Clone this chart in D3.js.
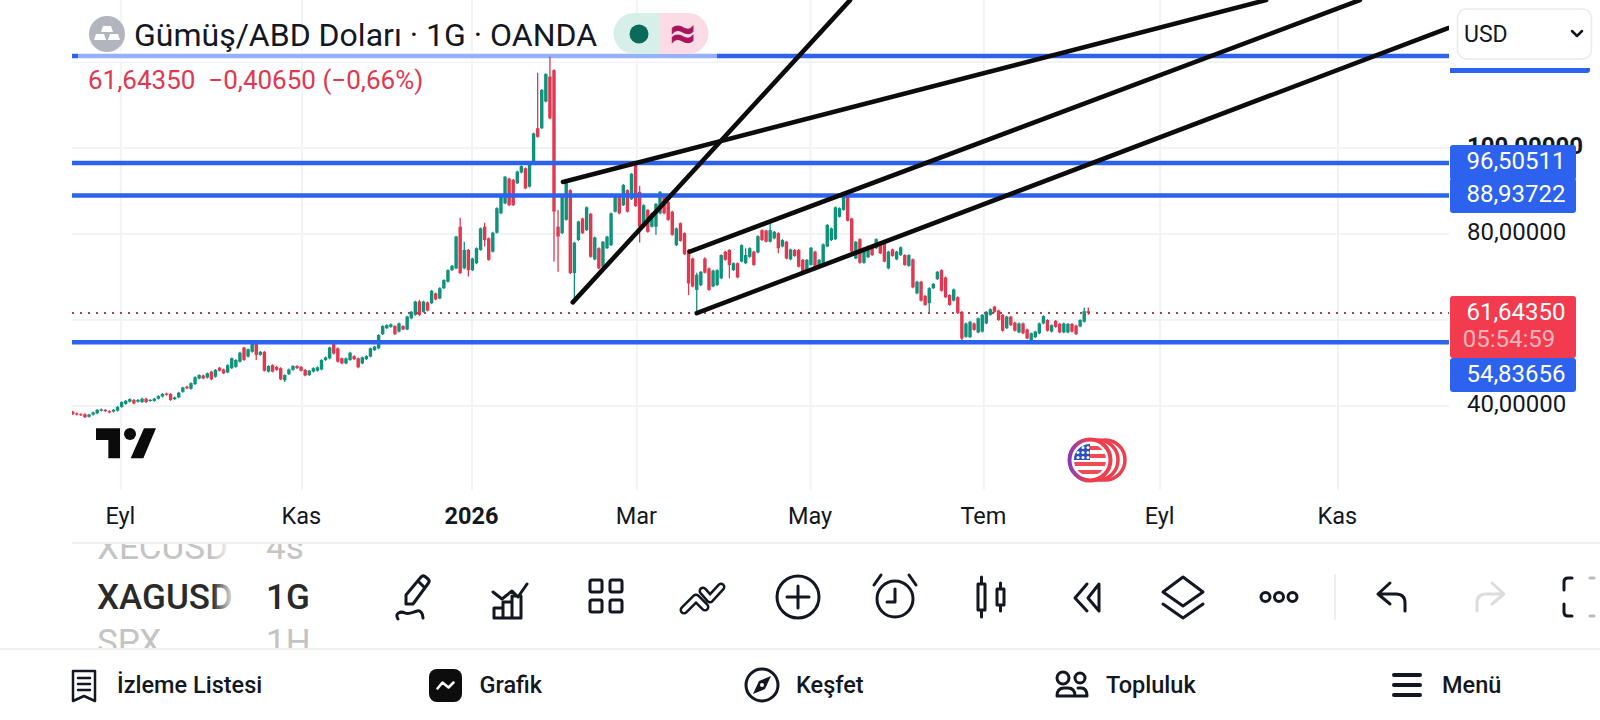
<!DOCTYPE html>
<html>
<head>
    <title>XAGUSD</title>
    <script src="https://cdnjs.cloudflare.com/ajax/libs/d3/7.8.5/d3.min.js"></script>
    <style>
        html, body { margin: 0; background: #fff; overflow: hidden; }
        svg { display: block; font-family: Roboto, sans-serif; }
        .icon { fill: none; stroke: #131722; stroke-width: 3; stroke-linejoin: round; stroke-linecap: round; }
        .axis path, .axis line { display: none; }
    </style>
</head>
<body>
    <div id="chart"></div>
    <script>
        // Daily candles, oldest first (250 bars)
        const opens = [
            38.7,38.3,38.1,38.1,37.5,38.0,38.3,38.9,39.1,38.8,
            38.7,38.9,39.8,40.5,41.0,41.4,41.0,40.9,41.7,41.2,
            41.2,41.7,42.2,42.9,42.8,41.6,42.0,43.3,44.5,44.0,
            45.1,46.4,47.1,46.6,48.0,46.8,48.9,48.5,47.8,48.8,
            49.1,50.3,53.6,51.5,52.6,54.6,51.9,52.6,48.0,49.5,
            49.1,48.8,46.0,47.4,48.4,49.3,49.1,48.4,47.2,48.0,
            48.2,48.5,50.7,51.1,54.6,53.4,51.1,49.9,50.7,51.6,
            51.1,49.9,50.9,51.5,53.0,53.4,56.7,58.1,58.4,58.6,57.3,
            58.6,57.8,60.4,61.2,64.3,61.9,64.1,63.9,66.2,65.0,
            67.4,68.9,71.6,72.0,81.7,72.0,76.3,71.6,73.2,76.3,
            81.7,79.0,75.9,80.3,84.8,87.1,92.9,92.6,91.8,94.3,
            95.3,91.0,96.4,104.6,104.6,110.8,116.6,118.1,81.7,80.2,
            83.3,90.2,70.9,78.6,83.6,80.9,84.7,74.1,76.7,72.4,
            76.7,77.4,85.2,89.1,86.7,90.2,88.1,96.4,89.8,82.1,
            85.6,81.7,81.7,84.8,89.1,87.5,85.2,77.4,82.5,80.2,76.3,74.3,
            67.0,68.1,74.3,72.0,67.8,68.1,69.7,75.9,76.3,71.6,
            73.2,73.6,73.2,74.7,75.9,75.7,80.9,80.8,78.2,79.0,
            80.2,77.1,78.2,74.1,76.3,76.3,74.0,71.2,72.8,75.9,
            72.4,72.6,77.1,78.6,78.8,84.0,85.6,88.7,83.6,74.3,
            78.8,73.3,74.6,77.2,76.7,78.2,77.8,72.0,76.4,74.1,
            75.1,75.1,72.6,74.1,66.2,68.9,65.6,63.9,67.4,69.5,
            71.6,69.9,65.8,64.5,65.3,61.9,56.1,56.0,59.2,57.1,
            57.3,59.2,61.2,63.1,62.2,61.2,58.1,60.8,59.4,57.1,
            59.2,57.8,55.3,56.0,56.9,59.2,60.0,
            57.3,59.8,59.1,57.1,57.1,59.1,58.7,58.5,59.6,62.05
        ];
        const closes = [
            38.1,38.0,37.9,37.4,38.0,38.5,39.1,39.2,38.8,38.5,
            39.1,39.8,40.9,41.2,41.6,40.6,41.4,41.7,40.9,41.4,
            41.7,42.3,42.8,42.6,41.4,42.0,43.1,44.3,44.1,45.3,
            46.7,47.2,46.4,47.6,46.2,48.4,48.2,47.6,49.5,51.1,
            50.7,52.4,50.7,53.2,54.4,51.9,52.6,48.2,49.3,48.0,
            48.4,46.2,47.2,48.5,49.3,48.8,48.2,47.1,48.2,48.8,
            49.0,50.7,51.3,53.6,52.2,50.3,49.9,51.1,52.4,50.9,
            49.0,51.3,51.6,53.4,53.8,56.5,58.6,58.8,59.0,56.7,59.2,
            57.8,60.8,61.9,64.3,61.2,64.3,62.2,66.8,64.8,67.4,
            69.3,71.6,72.6,79.4,70.9,76.3,71.6,74.3,76.7,81.3,
            78.6,74.0,80.3,86.0,88.7,93.3,86.7,86.7,94.5,95.8,
            90.6,96.4,103.4,102.6,113.5,117.2,106.9,85.2,79.4,88.7,
            92.2,70.9,78.0,82.9,80.2,86.2,74.7,79.2,72.0,78.2,
            79.4,84.8,88.7,84.8,91.4,85.2,94.0,86.5,81.7,86.7,
            80.5,84.8,87.0,89.8,84.8,83.3,79.8,81.3,78.4,75.3,68.5,67.8,
            70.5,71.2,71.0,67.0,71.5,71.6,75.1,74.0,72.8,73.2,
            69.9,77.4,75.1,76.7,72.8,79.5,78.6,78.2,80.9,80.5,
            76.7,78.6,74.3,76.4,74.9,72.4,71.0,74.0,76.8,72.2,
            74.0,77.6,82.1,81.3,86.2,86.0,89.3,83.1,75.9,78.2,
            73.3,76.7,77.1,75.1,78.8,75.5,73.6,75.9,74.9,75.9,
            76.9,72.8,75.1,67.6,68.9,64.5,63.5,67.4,68.4,71.2,
            66.8,65.3,63.5,67.1,61.6,55.7,59.2,59.6,57.7,60.4,
            61.2,61.9,62.5,61.9,60.0,57.5,60.8,58.8,57.5,59.2,
            56.9,55.7,56.9,57.3,59.2,60.9,57.5,
            58.8,58.4,57.1,59.2,59.1,57.3,56.7,60.0,62.05,61.64
        ];
        const highs = [
            38.9,38.5,38.3,38.3,38.2,38.7,39.3,39.4,39.3,39.0,
            39.3,40.0,41.1,41.4,41.8,41.6,41.6,41.9,41.9,41.6,
            41.9,42.5,43.0,43.1,43.0,42.2,43.3,44.5,44.7,45.5,
            46.9,47.4,47.3,47.8,48.2,48.6,49.1,48.7,49.7,51.3,
            50.9,52.6,53.8,53.4,54.6,54.8,52.8,52.8,49.5,49.7,
            49.3,49.0,47.4,48.7,49.5,49.5,49.3,48.6,48.4,49.0,
            49.2,50.9,51.5,53.8,54.8,53.6,51.3,51.3,52.6,51.8,
            51.3,51.5,51.8,53.6,54.0,56.7,58.8,59.0,59.2,58.8,59.4,
            58.8,61.0,62.1,64.5,64.7,64.5,64.3,67.0,66.4,67.6,
            69.5,71.8,72.8,79.6,83.8,78.2,76.5,74.5,76.9,81.5,
            82.6,79.2,80.5,86.2,88.9,93.5,93.1,92.8,94.7,96.0,
            95.5,96.6,103.6,117.5,113.7,117.4,121.2,118.3,85.6,88.9,
            92.4,90.4,78.2,83.1,83.8,86.4,84.9,79.4,76.9,78.4,
            79.6,85.0,88.9,89.3,91.6,90.4,94.2,96.6,91.2,86.9,
            85.8,85.0,87.2,90.0,89.3,87.7,85.4,81.5,82.7,80.4,76.5,74.5,
            71.0,71.4,74.6,72.2,71.7,71.8,75.3,76.1,76.5,73.4,
            73.4,77.6,76.7,76.9,76.1,79.7,81.1,81.0,83.3,80.7,
            80.4,78.8,78.4,76.6,76.5,76.5,74.2,74.2,77.0,76.1,
            74.2,77.8,82.3,81.5,86.4,86.2,89.5,88.9,83.8,78.4,
            79.0,76.9,77.3,77.4,79.0,78.4,78.0,76.1,76.6,76.1,
            77.1,75.3,75.3,74.3,69.1,69.1,65.8,67.6,68.6,71.4,
            71.8,70.1,66.0,67.3,65.5,62.1,59.4,59.8,59.4,60.6,
            61.4,62.1,62.7,63.3,62.4,61.4,61.0,61.0,59.6,59.4,
            59.4,58.0,57.1,57.5,59.4,61.1,60.2,
            59.0,60.0,59.3,59.4,59.3,59.3,58.9,60.2,62.9,62.9
        ];
        const lows = [
            37.9,37.8,37.7,37.2,37.3,37.8,38.1,38.7,38.6,38.3,
            38.5,38.7,39.6,40.3,40.8,40.4,40.8,40.7,40.7,41.0,
            41.0,41.5,42.0,42.4,41.2,41.4,41.8,43.1,43.9,43.8,
            44.9,46.2,46.2,46.4,46.0,46.6,48.0,47.4,47.6,48.6,
            48.9,50.1,50.5,51.3,52.4,50.7,51.7,48.0,47.8,47.8,
            48.2,46.0,45.6,47.2,48.2,48.6,48.0,46.9,47.0,47.8,
            48.0,48.3,50.5,50.9,52.0,50.1,49.7,49.7,50.5,50.7,
            48.8,49.7,50.7,51.3,52.8,53.2,56.5,57.9,58.2,56.5,57.1,
            57.6,57.6,60.2,61.0,60.9,61.7,62.0,63.7,64.6,64.8,
            67.2,68.7,71.4,71.8,70.7,71.8,70.1,71.4,73.0,76.1,
            77.1,73.8,75.7,80.1,84.6,86.9,86.5,86.5,91.6,94.1,
            90.4,90.8,96.2,102.4,104.4,110.6,106.7,73.6,71.2,80.0,
            83.1,70.7,63.9,78.4,80.0,80.7,74.5,73.9,71.8,72.2,
            76.5,77.2,85.0,84.6,86.5,85.0,87.9,86.3,78.0,81.9,
            80.3,81.5,79.8,84.6,84.6,83.1,79.6,77.2,78.2,75.1,65.8,67.6,
            61.6,67.9,70.8,66.8,67.6,67.9,69.5,73.8,69.7,71.4,
            69.7,73.4,73.0,74.5,72.6,75.5,78.4,78.0,78.0,78.8,
            75.5,76.9,74.1,73.9,74.7,72.2,70.8,71.0,72.6,72.0,
            72.2,72.4,76.9,78.4,78.6,83.8,85.4,82.9,75.7,74.1,
            73.1,73.1,74.4,74.9,76.5,75.3,73.4,71.8,74.7,73.9,
            74.9,72.6,72.4,67.4,66.0,64.3,63.3,61.6,67.2,69.3,
            66.6,65.1,63.3,64.3,61.4,55.1,55.9,55.8,57.5,56.9,
            57.1,59.0,61.0,61.7,59.8,57.3,57.9,58.6,57.3,56.9,
            56.7,55.5,55.1,55.8,56.7,59.0,57.3,
            57.1,58.2,56.9,56.9,56.9,57.1,56.5,58.3,59.4,61.2
        ];

        // Time axis: month starts, in bar numbers
        const timeTicks = [11.8, 56.2, 97.9, 138.3, 180.9, 223.4, 266.6, 310.2];
        const timeLabels = ['Eyl', 'Kas', '2026', 'Mar', 'May', 'Tem', 'Eyl', 'Kas'];
        const priceGrid = [120, 100, 80, 60, 40];
        const priceTicks = [100, 80, 40];

        // Drawn levels and trend lines (bar number, price)
        const topLevel = 121.4;
        const levels = [96.50511, 88.93722, 54.83656];
        const lastPrice = 61.6435;
        const trendFrom = [[122.6, 64.1], [120.2, 92.1], [151.3, 75.9], [153.0, 61.6]];
        const trendTo = [[190.6, 134.4], [292.6, 134.4], [315.6, 134.4], [337.2, 127.9]];

        const green = '#0f917b', red = '#df3850', blue = '#2c62ee', ink = '#131722';

        const svg = d3.select('#chart').append('svg').attr('width', 1600).attr('height', 720);

        // Index-based x scale, the chart leaves out weekends
        const xScale = d3.scaleLinear().domain([0, 249]).range([72.7, 1088.3]);
        const yScale = d3.scaleLinear().domain([100, 40]).range([148, 406]);
        const comma = d3.format('.5f');
        const priceText = v => comma(v).replace('.', ',');

        svg.append('clipPath').attr('id', 'plot')
            .append('rect').attr('x', 72).attr('y', 0).attr('width', 1377).attr('height', 540);

        const plot = svg.append('g').attr('clip-path', 'url(#plot)');

        // Grid
        plot.selectAll('.vgrid').data(timeTicks).enter().append('line')
            .attr('x1', d => xScale(d)).attr('x2', d => xScale(d))
            .attr('y1', 0).attr('y2', 490)
            .attr('stroke', '#f2f3f5').attr('stroke-width', 2);
        plot.selectAll('.hgrid').data(priceGrid).enter().append('line')
            .attr('x1', 72).attr('x2', 1449)
            .attr('y1', d => yScale(d)).attr('y2', d => yScale(d))
            .attr('stroke', '#f2f3f5').attr('stroke-width', 2);

        // Top level runs under the legend, which washes it out
        plot.append('line').attr('x1', 72).attr('x2', 1449)
            .attr('y1', yScale(topLevel)).attr('y2', yScale(topLevel))
            .attr('stroke', blue).attr('stroke-width', 4.5);
        plot.append('rect').attr('x', 78).attr('y', 50).attr('width', 639).attr('height', 12)
            .attr('fill', '#fff').attr('opacity', 0.5);

        // Candles
        const candle = plot.selectAll('.candle').data(d3.range(opens.length)).enter().append('g');
        const colorOf = i => closes[i] >= opens[i] ? green : red;
        candle.append('line')
            .attr('x1', i => xScale(i)).attr('x2', i => xScale(i))
            .attr('y1', i => yScale(highs[i])).attr('y2', i => yScale(lows[i]))
            .attr('stroke', colorOf).attr('stroke-width', 1.3);
        candle.append('rect')
            .attr('x', i => xScale(i) - 1.7).attr('width', 3.4)
            .attr('y', i => yScale(Math.max(opens[i], closes[i])))
            .attr('height', i => Math.max(1, Math.abs(yScale(opens[i]) - yScale(closes[i]))))
            .attr('fill', colorOf);

        // Last price line
        plot.append('line').attr('x1', 72).attr('x2', 1449)
            .attr('y1', yScale(lastPrice)).attr('y2', yScale(lastPrice))
            .attr('stroke', '#a5434f').attr('stroke-width', 2).attr('stroke-dasharray', '2 6');

        // Levels
        plot.selectAll('.level').data(levels).enter().append('line')
            .attr('x1', 72).attr('x2', 1449)
            .attr('y1', d => yScale(d)).attr('y2', d => yScale(d))
            .attr('stroke', blue).attr('stroke-width', 4.5);

        // Trend lines
        plot.selectAll('.trend').data(trendFrom).enter().append('line')
            .attr('x1', d => xScale(d[0])).attr('y1', d => yScale(d[1]))
            .attr('x2', (d, i) => xScale(trendTo[i][0])).attr('y2', (d, i) => yScale(trendTo[i][1]))
            .attr('stroke', '#0c0c0c').attr('stroke-width', 4.6).attr('stroke-linecap', 'round');

        // TradingView mark
        const logo = svg.append('g').attr('transform', 'translate(80,410) scale(0.3333)').attr('fill', '#0b0b0b');
        logo.append('path').attr('d', 'M48 55H120V145H85V90H48Z');
        logo.append('circle').attr('cx', 150).attr('cy', 72).attr('r', 18);
        logo.append('path').attr('d', 'M192 55H228L190 145H152Z');

        // Flag bubble
        const defs = svg.append('defs');
        const ringGrad = defs.append('linearGradient').attr('id', 'ring');
        ringGrad.append('stop').attr('offset', '0%').attr('stop-color', '#8c3bb8');
        ringGrad.append('stop').attr('offset', '45%').attr('stop-color', '#ee3d4c');
        defs.append('clipPath').attr('id', 'flag').append('circle').attr('cx', 1090).attr('cy', 460).attr('r', 16);
        [1105, 1098].forEach(cx => {
            svg.append('circle').attr('cx', cx).attr('cy', 460).attr('r', 20)
                .attr('fill', '#fff').attr('stroke', '#ee3d4c').attr('stroke-width', 3.5);
        });
        svg.append('circle').attr('cx', 1090).attr('cy', 460).attr('r', 20.5)
            .attr('fill', '#fff').attr('stroke', 'url(#ring)').attr('stroke-width', 4);
        const flag = svg.append('g').attr('clip-path', 'url(#flag)');
        flag.append('rect').attr('x', 1074).attr('y', 444).attr('width', 32).attr('height', 32).attr('fill', '#fff');
        d3.range(4).forEach(k => {
            flag.append('rect').attr('x', 1074).attr('y', 446 + k * 8).attr('width', 32).attr('height', 4).attr('fill', '#ee4b55');
        });
        flag.append('rect').attr('x', 1074).attr('y', 444).attr('width', 16).attr('height', 16).attr('fill', '#2a4fc2');
        d3.range(3).forEach(r => d3.range(3).forEach(c => {
            flag.append('circle').attr('cx', 1078 + c * 5).attr('cy', 447.5 + r * 5).attr('r', 1.5).attr('fill', '#fff');
        }));

        // Legend
        svg.append('circle').attr('cx', 107).attr('cy', 34).attr('r', 18).attr('fill', '#b2b5be');
        svg.append('path').attr('d', 'M103 26h8l2 6h-12z M96 34h8l2 6H94z M110 34h8l2 6h-12z').attr('fill', '#fff');
        svg.append('text').attr('x', 134).attr('y', 46).attr('fill', ink)
            .style('font-size', '32px').text('Gümüş/ABD Doları · 1G · OANDA');
        svg.append('path').attr('d', 'M660 13H634a20.5 20.5 0 0 0 0 41H660Z').attr('fill', '#d6efe9');
        svg.append('path').attr('d', 'M660 13H688a20.5 20.5 0 0 1 0 41H660Z').attr('fill', '#fbdbe6');
        svg.append('circle').attr('cx', 639).attr('cy', 34).attr('r', 9.5).attr('fill', '#0a6b5b');
        svg.append('text').attr('x', 683).attr('y', 48).attr('text-anchor', 'middle').attr('fill', '#a8145e')
            .attr('stroke', '#a8145e').attr('stroke-width', 1)
            .style('font-size', '44px').style('font-weight', 700).text('≈');
        svg.append('text').attr('x', 88).attr('y', 89).attr('fill', red)
            .style('font-size', '26px').style('white-space', 'pre').text('61,64350  −0,40650 (−0,66%)');

        // Price axis
        const yAxis = d3.axisRight(yScale).tickValues(priceTicks).tickFormat(priceText).tickSize(0).tickPadding(0);
        const yAxisG = svg.append('g').attr('class', 'axis').attr('transform', 'translate(1467,-2.5)').call(yAxis);
        yAxisG.selectAll('text').attr('fill', ink)
            .style('font-size', '24px').style('font-family', 'Roboto, sans-serif')
            .style('font-weight', d => d === 100 ? 700 : 400);

        // Price labels
        const labelY = [145, 178];
        const tagTexts = [96.50511, 88.93722];
        svg.selectAll('.tag').data(tagTexts).enter().append('rect')
            .attr('x', 1450).attr('y', (d, i) => labelY[i]).attr('width', 126).attr('height', 35).attr('rx', 3)
            .attr('fill', blue);
        svg.selectAll('.tagText').data(tagTexts).enter().append('text')
            .attr('x', 1516).attr('y', (d, i) => labelY[i] + 24).attr('text-anchor', 'middle').attr('fill', '#fff')
            .style('font-size', '24px').text(priceText);
        svg.append('rect').attr('x', 1450).attr('y', 296).attr('width', 126).attr('height', 62).attr('rx', 3).attr('fill', '#f23b4f');
        svg.append('text').attr('x', 1516).attr('y', 320).attr('text-anchor', 'middle').attr('fill', '#fff')
            .style('font-size', '24px').text(priceText(61.6435));
        svg.append('text').attr('x', 1509).attr('y', 347).attr('text-anchor', 'middle').attr('fill', '#fbb4bb')
            .style('font-size', '24px').text('05:54:59');
        svg.append('rect').attr('x', 1450).attr('y', 358).attr('width', 126).attr('height', 34).attr('rx', 3).attr('fill', blue);
        svg.append('text').attr('x', 1516).attr('y', 382).attr('text-anchor', 'middle').attr('fill', '#fff')
            .style('font-size', '24px').text(priceText(54.83656));
        svg.append('path').attr('d', 'M1450 68H1590V70a3 3 0 0 1 -3 3H1450Z').attr('fill', blue);

        // Currency selector
        svg.append('rect').attr('x', 1457.5).attr('y', 9).attr('width', 134).attr('height', 50).attr('rx', 9)
            .attr('fill', '#fff').attr('stroke', '#ececec').attr('stroke-width', 1.5);
        svg.append('text').attr('x', 1464).attr('y', 42).attr('fill', ink).style('font-size', '23px').text('USD');
        svg.append('path').attr('d', 'M1572 31l5 5 5-5').attr('class', 'icon').style('stroke-width', 2.5);

        // Time axis
        const xAxis = d3.axisBottom(xScale).tickValues(timeTicks).tickFormat((d, i) => timeLabels[i]).tickSize(0).tickPadding(0);
        const xAxisG = svg.append('g').attr('class', 'axis').attr('transform', 'translate(-1,507)').call(xAxis);
        xAxisG.selectAll('text').attr('fill', ink)
            .style('font-size', '23.5px').style('font-family', 'Roboto, sans-serif')
            .style('font-weight', (d, i) => timeLabels[i] === '2026' ? 700 : 400);

        // Panel separators
        [543, 649].forEach(y => {
            svg.append('line').attr('x1', y === 543 ? 72 : 0).attr('x2', 1600).attr('y1', y).attr('y2', y)
                .attr('stroke', '#f0f0f0').attr('stroke-width', 2);
        });

        // Watchlist wheel
        svg.append('clipPath').attr('id', 'wheel').append('rect').attr('x', 60).attr('y', 544).attr('width', 300).attr('height', 104);
        const wheel = svg.append('g').attr('clip-path', 'url(#wheel)');
        const wheelSymbols = ['XECUSD', 'XAGUSD', 'SPX'];
        const wheelPeriods = ['4s', '1G', '1H'];
        const wheelY = [559, 609, 654];
        const wheelFill = ['#c4c4c4', '#2a2a2a', '#c4c4c4'];
        wheelSymbols.forEach((s, i) => {
            wheel.append('text').attr('x', 97).attr('y', wheelY[i]).attr('fill', wheelFill[i])
                .style('font-size', '35px').style('font-weight', i === 1 ? 500 : 400).text(s);
            wheel.append('text').attr('x', 266).attr('y', wheelY[i]).attr('fill', wheelFill[i])
                .style('font-size', '35px').style('font-weight', i === 1 ? 500 : 400).text(wheelPeriods[i]);
        });
        const wheelFade = defs.append('linearGradient').attr('id', 'fade');
        wheelFade.append('stop').attr('offset', '0%').attr('stop-color', '#fff').attr('stop-opacity', 0);
        wheelFade.append('stop').attr('offset', '100%').attr('stop-color', '#fff').attr('stop-opacity', 1);
        svg.append('rect').attr('x', 212).attr('y', 544).attr('width', 24).attr('height', 104).attr('fill', 'url(#fade)');

        // Toolbar icons
        const icon = (x, y, d, color) => svg.append('path').attr('class', 'icon')
            .attr('transform', `translate(${x},${y})`).attr('d', d)
            .style('stroke', color || ink);
        const dot = 'a4.5 4.5 0 1 0 9 0a4.5 4.5 0 1 0 -9 0';
        icon(415, 597, 'M-9 7V-2L6-20a3 3 0 0 1 4-.5l3 2.5a3 3 0 0 1 .5 4L-2 7Z M3-16l7 7 M-17 22c-4-6 3-8 7-6s8-1 12-2c3-1 6 2 6 7');
        icon(510, 597, 'M-16 21V11H-7V21Z M-7 21V5H2V21 M2 21V-1H11V21H-16 M-17-5L-8 2L2-6L8 0L17-13');
        icon(606, 597, 'M-14-17h8a2 2 0 0 1 2 2v8a2 2 0 0 1-2 2h-8a2 2 0 0 1-2-2v-8a2 2 0 0 1 2-2Z M6-17h8a2 2 0 0 1 2 2v8a2 2 0 0 1-2 2H6a2 2 0 0 1-2-2v-8a2 2 0 0 1 2-2Z M-14 3h8a2 2 0 0 1 2 2v8a2 2 0 0 1-2 2h-8a2 2 0 0 1-2-2V5a2 2 0 0 1 2-2Z M6 3h8a2 2 0 0 1 2 2v8a2 2 0 0 1-2 2H6a2 2 0 0 1-2-2V5a2 2 0 0 1 2-2Z');
        const chevrons = 'M-18 13L-6 1L3 10 M1-6L8 2L19-10';
        icon(702, 597, chevrons).style('stroke-width', 9);
        icon(702, 597, chevrons, '#fff').style('stroke-width', 4);
        icon(798, 597, 'M-21 0a21 21 0 1 0 42 0a21 21 0 1 0 -42 0 M0-11V11 M-11 0H11');
        icon(895, 597, 'M-18 2a18 18 0 1 0 36 0a18 18 0 1 0 -36 0 M0-8V5H-8 M-21-12L-14-22 M21-12L14-22');
        icon(991, 597, 'M-13-13H-6V13H-13Z M-9.5-20V-13 M-9.5 13V20 M6-8H13V8H6Z M9.5-14V-8 M9.5 8V14');
        icon(1087, 597, 'M0-13L-12 1L0 14 M12-13L1 1L12 14Z');
        icon(1183, 597, 'M0-20L20-5L0 9L-20-5Z M-20 7L0 21L20 7');
        icon(1279, 597, `M-18 0${dot} M-4.5 0${dot} M9 0${dot}`);
        svg.append('line').attr('x1', 1335).attr('x2', 1335).attr('y1', 574).attr('y2', 620).attr('stroke', '#eeeeee').attr('stroke-width', 2);
        icon(1392, 597, 'M-2-14L-14-3L-2 7 M-14-3H4Q13-3 13 6V14');
        icon(1490, 597, 'M2-14L14-3L2 7 M14-3H-4Q-13-3-13 6V14', '#dcdcdc');
        icon(1566, 597, 'M6-19H2Q-2-19-2-15V-7 M-2 7V15Q-2 19 2 19H6');
        icon(1596, 597, 'M-6-19H-2 M-6 19H-2', '#bbbbbb');

        // Bottom navigation
        const navLabels = ['İzleme Listesi', 'Grafik', 'Keşfet', 'Topluluk', 'Menü'];
        const navX = [117, 479.5, 796, 1106, 1442];
        navLabels.forEach((t, i) => {
            svg.append('text').attr('x', navX[i]).attr('y', 693).attr('fill', ink)
                .style('font-size', '23.5px').style('font-weight', 500).text(t);
        });
        icon(84, 685, 'M-11-14H11V16L0 11L-11 16Z M-6-7H6 M-6-1H6 M-6 5H6').style('stroke-width', 2.5);
        svg.append('rect').attr('x', 429).attr('y', 669).attr('width', 33).attr('height', 33).attr('rx', 8).attr('fill', '#0d0d0d');
        icon(445.5, 685.5, 'M-8 3L-3-3L3 2L8-3', '#fff').style('stroke-width', 2.5);
        icon(762, 685, 'M-16 0a16 16 0 1 0 32 0a16 16 0 1 0 -32 0').style('stroke-width', 3);
        svg.append('path').attr('transform', 'translate(762,685)').attr('d', 'M9-9L3 4L-9 9L-3-4Z').attr('fill', ink);
        svg.append('circle').attr('cx', 762).attr('cy', 685).attr('r', 2).attr('fill', '#fff');
        icon(1072, 678, 'M-15 0a6 6 0 1 0 12 0a6 6 0 1 0-12 0Z M3 0a5 5 0 1 0 10 0a5 5 0 1 0-10 0Z').style('stroke-width', 3);
        icon(1071, 685, 'M-14 11Q-14 3-7 3H-3Q4 3 4 11Z M7 3H10Q16 3 16 11H6').style('stroke-width', 3);
        icon(1407, 685, 'M-13-10H13 M-13 0H13 M-13 10H13').style('stroke-width', 4);
    </script>
</body>
</html>
